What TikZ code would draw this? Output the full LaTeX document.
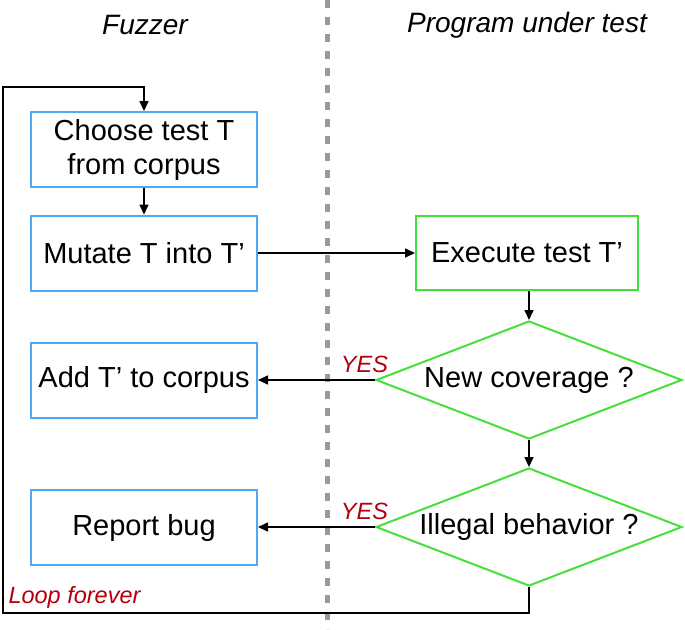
\documentclass[tikz,border=0pt]{standalone}
\usepackage{fontspec}
\setmainfont{Liberation Sans}
\usepackage{tikz}
\usetikzlibrary{positioning,shapes.geometric,arrows.meta}
\definecolor{FZBlue}{HTML}{4FA8F5}
\definecolor{FZGreen}{HTML}{44E03A}
\definecolor{FZRed}{HTML}{B3000C}
\definecolor{FZGray}{HTML}{9A9A9A}

\tikzset{
  fzbox/.style={draw=FZBlue,line width=2pt,minimum width=226pt,minimum height=75pt,align=center,
    font=\fontsize{29}{34}\selectfont},
  putbox/.style={draw=FZGreen,line width=2pt,minimum width=222pt,minimum height=74pt,align=center,
    font=\fontsize{29}{34}\selectfont},
  putcheck/.style={draw=FZGreen,line width=2pt,diamond,aspect=2.6,inner sep=0pt,
    minimum width=306pt,minimum height=118pt,font=\fontsize{29}{34}\selectfont},
  flow/.style={line width=1.6pt,-{Triangle[length=10pt,width=9pt]}},
  yes/.style={text=FZRed,font=\fontsize{23.5}{28}\selectfont\itshape},
  lane/.style={font=\fontsize{28}{33}\selectfont\itshape}
}

\begin{document}
\begin{tikzpicture}[x=1pt,y=1pt]
    \useasboundingbox (0,0) rectangle (685,-629);
    % lanes
    \draw[FZGray,line width=5pt,dash pattern=on 8pt off 9pt] (327,0) -- (327,-629);
    \node[lane] (fuzzer) at (145,-25) {Fuzzer};
    \node[lane] (put) at (527,-25) {Program under test};
    % fuzzer side
    \node[fzbox] (choose) at (144,-149.5) {Choose test T\\from corpus};
    \node[fzbox] (mutate) at (144,-253) {Mutate T into T’};
    \node[fzbox] (add) at (144,-380) {Add T’ to corpus};
    \node[fzbox] (report) at (144,-527.5) {Report bug};
    % program side
    \node[putbox] (exec) at (527,-253) {Execute test T’};
    \node[putcheck] (newcov) at (529,-380) {New coverage ?};
    \node[putcheck] (illegal) at (529,-527) {Illegal behavior ?};
    % connectors
    \draw[flow] (choose) -- (mutate);
    \draw[flow] (mutate) -- (exec);
    \draw[flow] (exec.south -| newcov.north) -- (newcov.north);
    \draw[flow] (newcov) -- (illegal);
    \draw[flow] (newcov.west) -- node[yes,pos=0.09,above=3pt] (yes1) {YES} (newcov.west -| add.east);
    \draw[flow] (illegal.west) -- node[yes,pos=0.09,above=3pt] (yes2) {YES} (illegal.west -| report.east);
    % loop back
    \coordinate (loopbl) at (3,-613);
    \coordinate (looptl) at (3,-87);
    \draw[flow] (illegal.south) |- (loopbl) -- (looptl) -| (choose.north);
    \node[yes,anchor=west] (loop) at (5,-597) {Loop forever};
\end{tikzpicture}
\end{document}
